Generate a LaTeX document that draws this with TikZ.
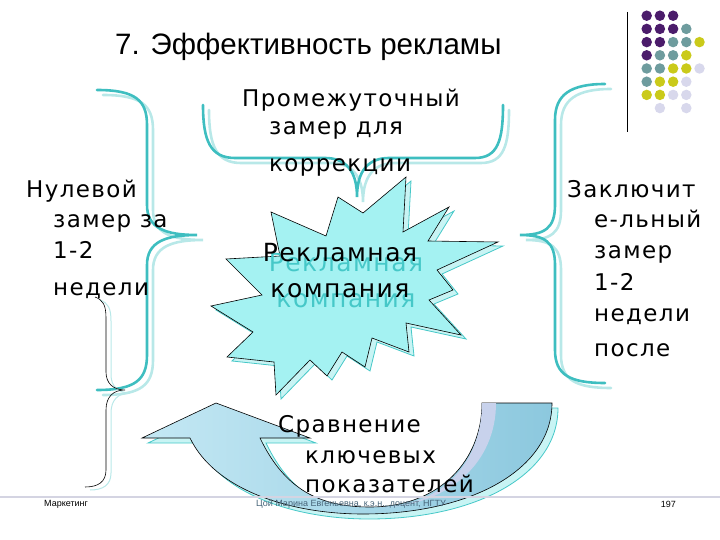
\documentclass[tikz,border=0pt]{standalone}
\usepackage{fontspec}
\setmainfont{DejaVu Sans}
\newfontfamily\bodyfont{DejaVu Sans}[LetterSpace=6]
\newfontfamily\titlefont{Liberation Sans}
\usetikzlibrary{calc}
\definecolor{bracecyan}{RGB}{62,190,192}
\definecolor{braceshadow}{RGB}{184,232,232}
\definecolor{starfill}{RGB}{164,242,242}
\definecolor{starshade}{RGB}{200,244,244}
\definecolor{starline}{RGB}{70,200,200}
\definecolor{arrowlight}{RGB}{196,232,244}
\definecolor{arrowdark}{RGB}{140,200,222}
\definecolor{arrowedge}{RGB}{200,210,236}
\definecolor{footline}{RGB}{212,212,226}
\definecolor{footgray}{RGB}{70,100,120}
\definecolor{dotP}{RGB}{75,28,107}
\definecolor{dotT}{RGB}{110,156,158}
\definecolor{dotY}{RGB}{202,202,26}
\definecolor{dotL}{RGB}{216,216,236}

\newcommand{\ind}{\hspace*{27pt}}

\begin{document}
\begin{tikzpicture}[x=1pt, y=-1pt,
  brace/.style={line width=2.6pt, bracecyan, line cap=round},
  braceshade/.style={line width=2.6pt, braceshadow, line cap=round},
  thinbrace/.style={line width=0.6pt, black},
  bodytext/.style={anchor=base west, inner sep=0pt, font=\bodyfont\fontsize{23}{31}\selectfont},
  foottext/.style={inner sep=0pt, font=\titlefont\fontsize{9}{10}\selectfont},
  dot/.style={circle, inner sep=0pt, minimum size=10.5pt}]
  \useasboundingbox (0,0) rectangle (720,540);

  % Dot grid in the corner
  \draw[black, line width=0.8pt] (627,12) -- (627,132);
  \foreach \c/\r/\col in {0/0/dotP,1/0/dotP,2/0/dotP,
      0/1/dotP,1/1/dotP,2/1/dotP,3/1/dotT,
      0/2/dotP,1/2/dotP,2/2/dotT,3/2/dotT,4/2/dotY,
      0/3/dotP,1/3/dotT,2/3/dotT,3/3/dotY,
      0/4/dotT,1/4/dotT,2/4/dotY,3/4/dotY,4/4/dotL,
      0/5/dotT,1/5/dotY,2/5/dotY,3/5/dotL,
      0/6/dotY,1/6/dotY,2/6/dotL,3/6/dotL,
      1/7/dotL,3/7/dotL}
    \node[dot, fill=\col] (d\c\r) at ({646.7+13.2*\c},{15.7+13.2*\r}) {};

  % Title
  \node[anchor=base west, inner sep=0pt, font=\titlefont\fontsize{29.5}{31}\selectfont]
    (title) at (115,55) {7. Эффективность рекламы};

  % Braces (shadow first)
  \draw[braceshade, shift={(6,5)}] (97,90) .. controls (135,90) and (147,100) .. (147,125)
    -- (147,205) .. controls (147,228) and (165,235) .. (197,235)
    .. controls (165,235) and (147,242) .. (147,265) -- (147,355)
    .. controls (147,380) and (135,390) .. (97,390);
  \draw[brace] (97,90) .. controls (135,90) and (147,100) .. (147,125)
    -- (147,205) .. controls (147,228) and (165,235) .. (197,235)
    .. controls (165,235) and (147,242) .. (147,265) -- (147,355)
    .. controls (147,380) and (135,390) .. (97,390);

  \draw[braceshade, shift={(6,5)}] (203,105) .. controls (203,140) and (210,158) .. (235,158)
    -- (325,158) .. controls (345,158) and (357,170) .. (357,197)
    .. controls (357,170) and (369,158) .. (389,158) -- (475,158)
    .. controls (498,158) and (503,140) .. (503,105);
  \draw[brace] (203,105) .. controls (203,140) and (210,158) .. (235,158)
    -- (325,158) .. controls (345,158) and (357,170) .. (357,197)
    .. controls (357,170) and (369,158) .. (389,158) -- (475,158)
    .. controls (498,158) and (503,140) .. (503,105);

  \draw[braceshade, shift={(6,5)}] (605,84) .. controls (570,84) and (555,95) .. (555,120)
    -- (555,205) .. controls (555,228) and (545,235) .. (520,235)
    .. controls (545,235) and (555,242) .. (555,265) -- (555,350)
    .. controls (555,375) and (570,383) .. (605,383);
  \draw[brace] (605,84) .. controls (570,84) and (555,95) .. (555,120)
    -- (555,205) .. controls (555,228) and (545,235) .. (520,235)
    .. controls (545,235) and (555,242) .. (555,265) -- (555,350)
    .. controls (555,375) and (570,383) .. (605,383);

  \draw[braceshadow, line width=1pt, shift={(5,3)}] (95,297) .. controls (103,300) and (106,305) .. (106,318)
    -- (106,372) .. controls (106,383) and (113,390) .. (125,390)
    .. controls (113,390) and (106,397) .. (106,410) -- (106,470)
    .. controls (106,482) and (98,487) .. (85,487);
  \draw[thinbrace] (95,297) .. controls (103,300) and (106,305) .. (106,318)
    -- (106,372) .. controls (106,383) and (113,390) .. (125,390)
    .. controls (113,390) and (106,397) .. (106,410) -- (106,470)
    .. controls (106,482) and (98,487) .. (85,487);

  % Star
  \draw[starline, fill=starshade, line width=0.8pt, shift={(5,4)}]
    (271,212) -- (326,236) -- (338,197) -- (363,213) -- (406,177) -- (403,232)
    -- (449,207) -- (428,241) -- (498,242) -- (437,270) -- (453,290) -- (429,300)
    -- (461,335) -- (406,323) -- (409,352) -- (372,338) -- (365,367) -- (342,352)
    -- (327,376) -- (310,360) -- (276,395) -- (274,362) -- (227,357) -- (253,332)
    -- (211,306) -- (262,295) -- (226,259) -- (280,256) -- cycle;
  \draw[black, fill=starfill, line width=0.6pt]
    (271,212) -- (326,236) -- (338,197) -- (363,213) -- (406,177) -- (403,232)
    -- (449,207) -- (428,241) -- (498,242) -- (437,270) -- (453,290) -- (429,300)
    -- (461,335) -- (406,323) -- (409,352) -- (372,338) -- (365,367) -- (342,352)
    -- (327,376) -- (310,360) -- (276,395) -- (274,362) -- (227,357) -- (253,332)
    -- (211,306) -- (262,295) -- (226,259) -- (280,256) -- cycle;

  % Circular arrow
  \draw[starline, fill=starshade, line width=0.8pt, shift={(6,5)}]
    (142,438) -- (216,403) -- (310,438) -- (260,438)
    .. controls (285,490) and (320,507) .. (370,507)
    .. controls (440,507) and (482,460) .. (482,403) -- (552,403)
    .. controls (552,470) and (470,514) .. (363,514)
    .. controls (290,514) and (215,490) .. (190,438) -- cycle;
  \draw[black, line width=0.6pt, left color=arrowlight, right color=arrowdark]
    (142,438) -- (216,403) -- (310,438) -- (260,438)
    .. controls (285,490) and (320,507) .. (370,507)
    .. controls (440,507) and (482,460) .. (482,403) -- (552,403)
    .. controls (552,470) and (470,514) .. (363,514)
    .. controls (290,514) and (215,490) .. (190,438) -- cycle;
  \fill[arrowedge] (482,403) -- (496,403)
    .. controls (496,462) and (450,505) .. (380,508)
    .. controls (445,505) and (482,460) .. (482,403) -- cycle;

  % Texts
  \node[bodytext] (zero) at (26,197) {\begin{tabular}[t]{@{}l@{}}
    Нулевой\\ \ind замер за\\ \ind 1-2\\[5pt] \ind недели\end{tabular}};
  \node[bodytext] (mid) at (242,107) {\begin{tabular}[t]{@{}l@{}}
    Промежуточный\\[-3pt] \ind замер для\\[6pt] \ind коррекции\end{tabular}};
  \node[bodytext] (final) at (567,197) {\begin{tabular}[t]{@{}l@{}}
    Заключит\\ \ind е-льный\\ \ind замер\\ \ind 1-2\\ \ind недели\\[5pt] \ind после\end{tabular}};
  \node[bodytext] (compare) at (278,432) {\begin{tabular}[t]{@{}l@{}}
    Сравнение\\ \ind ключевых\\[-2pt] \ind показателей\end{tabular}};

  % Star label with its shadow
  \node[align=center, inner sep=0pt, starline, font=\bodyfont\fontsize{25}{36}\selectfont]
    (campshade) at (346,281) {Рекламная\\компания};
  \node[align=center, inner sep=0pt, font=\bodyfont\fontsize{25}{36}\selectfont]
    (camp) at (340,271) {Рекламная\\компания};

  % Footer
  \draw[footline, line width=2pt] (0,497) -- (720,497);
  \node[foottext, anchor=west] (subject) at (44,504) {Маркетинг};
  \node[foottext, anchor=west, footgray] (author) at (256,504) {Цой Марина Евгеньевна, к.э.н., доцент, НГТУ};
  \node[foottext, anchor=east] (page) at (676,504) {197};
\end{tikzpicture}
\end{document}
